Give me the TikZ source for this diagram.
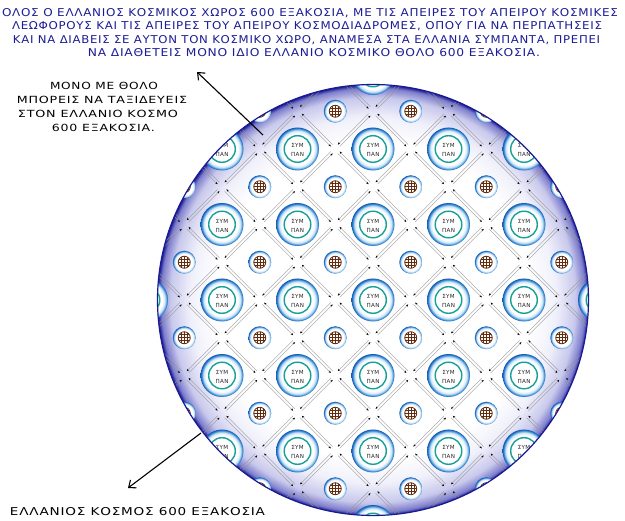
\documentclass[tikz,border=0pt]{standalone}
\usepackage{fontspec}
\usepackage{graphicx}
\usetikzlibrary{arrows.meta}
\newfontfamily\gk[LetterSpace=6]{DejaVu Sans}
\definecolor{rimblue}{RGB}{26,26,146}
\definecolor{lavA}{RGB}{240,240,251}
\definecolor{lavB}{RGB}{200,200,236}
\definecolor{lavC}{RGB}{125,125,205}
\definecolor{rbA}{RGB}{200,228,246}
\definecolor{rbB}{RGB}{50,135,212}
\definecolor{rbC}{RGB}{22,88,178}
\definecolor{tealring}{RGB}{24,160,150}
\definecolor{globebrown}{RGB}{95,45,20}
\definecolor{globefill}{RGB}{255,250,244}
\definecolor{lanegray}{RGB}{150,150,150}
\definecolor{topblue}{RGB}{28,28,150}
\pgfdeclareradialshading{sphereshade}{\pgfpoint{0bp}{0bp}}{color(0bp)=(white); color(18.5bp)=(white); color(21.25bp)=(lavA); color(23.5bp)=(lavB); color(24.6bp)=(lavC); color(25bp)=(rimblue); color(50bp)=(rimblue)}
\pgfdeclareradialshading{ringshade}{\pgfpoint{0bp}{0bp}}{color(0bp)=(white); color(18.5bp)=(white); color(21.5bp)=(rbA); color(23.8bp)=(rbB); color(25bp)=(rbC); color(50bp)=(rbC)}
\begin{document}
\begin{tikzpicture}[x=1pt,y=-1pt,
  lane/.style={draw=lanegray, line width=0.3pt, -{Stealth[length=2.4pt,width=2pt,black]}},
  bigc/.style={circle, minimum size=43pt, inner sep=0pt, shading=ringshade},
  smallc/.style={circle, minimum size=23pt, inner sep=0pt, shading=ringshade},
  bigtext/.style={align=center, inner sep=0pt, font=\gk\fontsize{5.6}{8.6}\selectfont, text=black!85},
  arr/.style={-{Straight Barb[length=6pt,width=10pt]}, line width=1.1pt, black},
  toptext/.style={anchor=base, inner sep=0pt, text=topblue},
  sidetext/.style={anchor=base, inner sep=0pt, text=black}]
\useasboundingbox (0,0) rectangle (625,521);
\node (world) [circle, minimum size=431pt, inner sep=0pt, shading=sphereshade] at (373,300) {};
\begin{scope}
\clip (373,300) circle[radius=215.5pt];
% two-way avenues
\foreach \m in {-6,...,5}{
  \foreach \n in {-6,...,6}{
    \pgfmathtruncatemacro\odd{mod(\m+\n+20,2)}
    \ifnum\odd=1
      \pgfmathsetmacro\vx{373+37.75*\m}
      \pgfmathsetmacro\vy{300+37.75*\n}
      \begin{scope}[shift={(\vx,\vy)}, rotate=-45]
        \draw[lane] (5,1.3) -- (48.4,1.3);
        \draw[lane] (48.4,-1.3) -- (5,-1.3);
      \end{scope}
      \begin{scope}[shift={(\vx,\vy)}, rotate=45]
        \draw[lane] (5,1.3) -- (48.4,1.3);
        \draw[lane] (48.4,-1.3) -- (5,-1.3);
      \end{scope}
    \fi
  }
}
% globes
\foreach \i in {0,...,5}{
  \foreach \j in {0,...,5}{
    \pgfmathsetmacro\gx{373+75.5*(\i-3)+37.75}
    \pgfmathsetmacro\gy{300+75.5*(\j-3)+37.75}
    \pgfmathsetmacro\dd{veclen(\gx-373,\gy-300)}
    \ifdim\dd pt<227pt
    \node (gl-\i-\j) [smallc] at (\gx,\gy) {};
    \begin{scope}[shift={(\gx,\gy)}]
      \fill[globefill] (0,0) circle[radius=6pt];
      \begin{scope}
        \clip (0,0) circle[radius=6pt];
        \draw[globebrown, line width=0.5pt] (-3,-7) -- (-3,7) (0,-7) -- (0,7) (3,-7) -- (3,7)
          (-7,-3) -- (7,-3) (-7,0) -- (7,0) (-7,3) -- (7,3);
      \end{scope}
      \draw[globebrown, line width=0.8pt] (0,0) circle[radius=6pt];
    \end{scope}
    \fi
  }
}
% universes
\foreach \i in {0,...,6}{
  \foreach \j in {0,...,6}{
    \pgfmathsetmacro\bx{373+75.5*(\i-3)}
    \pgfmathsetmacro\by{300+75.5*(\j-3)}
    \pgfmathsetmacro\ty{\by+1.2}
    \pgfmathsetmacro\dd{veclen(\bx-373,\by-300)}
    \ifdim\dd pt<237pt
      \node (big-\i-\j) [bigc] at (\bx,\by) {};
      \draw[tealring, line width=1.4pt] (big-\i-\j.center) circle[radius=13.3pt];
      \ifdim\dd pt<218pt
        \node (tx-\i-\j) [bigtext] at (\bx,\ty) {ΣΥΜ\\ΠΑΝ};
      \fi
    \fi
  }
}
\end{scope}
\draw[rimblue, line width=1.2pt] (world.center) circle[radius=215.5pt];
% top text
\node (t1) [toptext] at (310,16.7) {\resizebox{616pt}{8pt}{\gk ΟΛΟΣ Ο ΕΛΛΑΝΙΟΣ ΚΟΣΜΙΚΟΣ ΧΩΡΟΣ 600 ΕΞΑΚΟΣΙΑ, ΜΕ ΤΙΣ ΑΠΕΙΡΕΣ ΤΟΥ ΑΠΕΙΡΟΥ ΚΟΣΜΙΚΕΣ}};
\node (t2) [toptext] at (307,30) {\resizebox{590pt}{8pt}{\gk ΛΕΩΦΟΡΟΥΣ ΚΑΙ ΤΙΣ ΑΠΕΙΡΕΣ ΤΟΥ ΑΠΕΙΡΟΥ ΚΟΣΜΟΔΙΑΔΡΟΜΕΣ, ΟΠΟΥ ΓΙΑ ΝΑ ΠΕΡΠΑΤΗΣΕΙΣ}};
\node (t3) [toptext] at (306.5,43.3) {\resizebox{587pt}{8pt}{\gk ΚΑΙ ΝΑ ΔΙΑΒΕΙΣ ΣΕ ΑΥΤΟΝ ΤΟΝ ΚΟΣΜΙΚΟ ΧΩΡΟ, ΑΝΑΜΕΣΑ ΣΤΑ ΕΛΛΑΝΙΑ ΣΥΜΠΑΝΤΑ, ΠΡΕΠΕΙ}};
\node (t4) [toptext] at (314,56.7) {\resizebox{452pt}{8pt}{\gk ΝΑ ΔΙΑΘΕΤΕΙΣ ΜΟΝΟ ΙΔΙΟ ΕΛΛΑΝΙΟ ΚΟΣΜΙΚΟ ΘΟΛΟ 600 ΕΞΑΚΟΣΙΑ.}};
% left text
\node (s1) [sidetext] at (104,90) {\resizebox{108pt}{7.3pt}{\gk ΜΟΝΟ ΜΕ ΘΟΛΟ}};
\node (s2) [sidetext] at (102,104) {\resizebox{170pt}{7.3pt}{\gk ΜΠΟΡΕΙΣ ΝΑ ΤΑΞΙΔΕΥΕΙΣ}};
\node (s3) [sidetext] at (98,117.7) {\resizebox{160pt}{7.3pt}{\gk ΣΤΟΝ ΕΛΛΑΝΙΟ ΚΟΣΜΟ}};
\node (s4) [sidetext] at (103.5,131.7) {\resizebox{103pt}{7.3pt}{\gk 600 ΕΞΑΚΟΣΙΑ.}};
% bottom text
\node (b1) [sidetext] at (137.5,515.2) {\resizebox{255pt}{8pt}{\gk ΕΛΛΑΝΙΟΣ ΚΟΣΜΟΣ 600 ΕΞΑΚΟΣΙΑ}};
% arrows
\coordinate (a1s) at (263,135);
\coordinate (a1e) at (197,72);
\coordinate (a2s) at (201,433);
\coordinate (a2e) at (128,488);
\draw[arr] (a1s) -- (a1e);
\draw[arr] (a2s) -- (a2e);
\end{tikzpicture}
\end{document}
